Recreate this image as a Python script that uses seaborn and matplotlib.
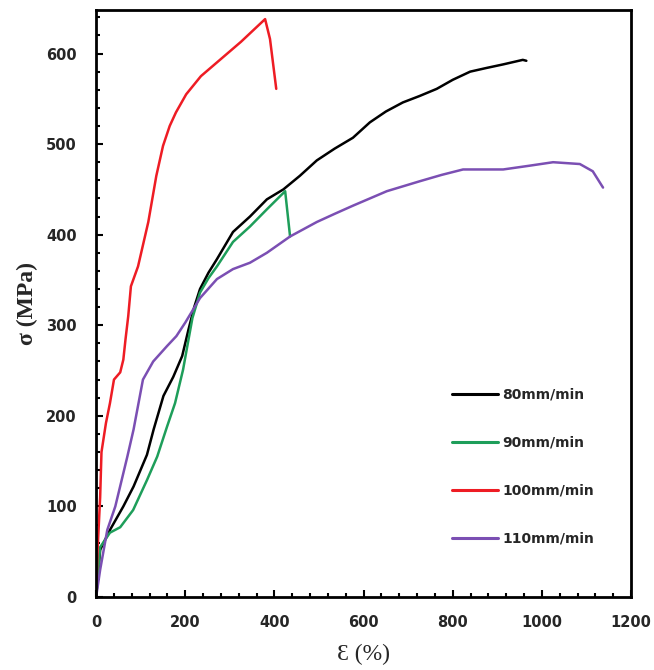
import numpy as np
import pandas as pd
import matplotlib
matplotlib.use("Agg")
import matplotlib.pyplot as plt
from matplotlib.ticker import MultipleLocator
import seaborn as sns

labels = ["80mm/min", "90mm/min", "100mm/min", "110mm/min"]
colors = ["#000000", "#1e9e5a", "#ee1c24", "#7b4fb3"]

x80 = [0, 9, 31, 61, 84, 114, 129, 151, 173, 193, 207, 220, 233, 252, 271, 307, 345, 383, 420, 457, 495, 535, 576, 614, 650, 688, 725, 764, 800, 839, 875, 913, 957, 965]
y80 = [0, 52, 74, 100, 122, 157, 185, 222, 243, 266, 295, 320, 340, 358, 373, 403, 420, 439, 450, 465, 482, 495, 507, 524, 536, 546, 553, 561, 571, 580, 584, 588, 593, 592]

x90 = [0, 9, 31, 54, 83, 114, 137, 159, 177, 195, 206, 216, 233, 252, 271, 307, 345, 383, 424, 435]
y90 = [0, 55, 71, 77, 96, 129, 155, 188, 214, 251, 281, 308, 336, 352, 365, 392, 409, 428, 448, 398]

x100 = [0, 3, 9, 12, 22, 31, 40, 54, 61, 66, 72, 78, 94, 117, 135, 150, 165, 179, 202, 235, 280, 325, 379, 390, 404]
y100 = [0, 50, 110, 160, 192, 214, 240, 248, 262, 285, 310, 343, 365, 414, 465, 498, 520, 535, 555, 575, 594, 613, 638, 616, 561]

x110 = [0, 9, 25, 43, 70, 84, 105, 128, 159, 180, 200, 233, 271, 307, 345, 383, 435, 495, 535, 576, 652, 726, 775, 823, 913, 970, 1025, 1085, 1114, 1137]
y110 = [0, 30, 74, 100, 155, 185, 240, 260, 277, 288, 303, 330, 351, 362, 369, 380, 398, 414, 423, 432, 448, 459, 466, 472, 472, 476, 480, 478, 470, 452]

xs = [x80, x90, x100, x110]
ys = [y80, y90, y100, y110]

frames = []
for lab, xv, yv in zip(labels, xs, ys):
    frames.append(pd.DataFrame({"strain": xv, "stress": yv, "speed": lab}))
df = pd.concat(frames, ignore_index=True)

sns.set_style("white")
fig = plt.figure(figsize=(6.54, 6.70), dpi=100)
ax = fig.add_axes([0.147, 0.109, 0.818, 0.876])

sns.lineplot(data=df, x="strain", y="stress", hue="speed", hue_order=labels,
             palette=colors, sort=False, estimator=None, units="speed",
             linewidth=1.8, ax=ax)

ax.set_xlim(0, 1200)
ax.set_ylim(0, 648)
ax.xaxis.set_major_locator(MultipleLocator(200))
ax.xaxis.set_minor_locator(MultipleLocator(40))
ax.yaxis.set_major_locator(MultipleLocator(100))
ax.yaxis.set_minor_locator(MultipleLocator(20))
ax.tick_params(which="both", direction="in", color="black", width=1.5,
               bottom=True, left=True, top=False, right=False)
ax.tick_params(which="major", length=5, labelsize=10.5)
ax.tick_params(axis="x", which="major", pad=13)
ax.tick_params(axis="y", which="major", pad=14)
ax.tick_params(which="minor", length=3)
for lbl in ax.get_xticklabels() + ax.get_yticklabels():
    lbl.set_fontweight("bold")
for sp in ax.spines.values():
    sp.set_color("black")
    sp.set_linewidth(2)

ax.set_xlabel("Ɛ (%)", family=["Liberation Serif", "DejaVu Serif"],
              fontsize=17, labelpad=10)
ax.set_ylabel("σ (MPa)", family=["Liberation Serif", "DejaVu Serif"],
              fontsize=17, fontweight="bold", labelpad=6)

leg = ax.legend(loc="upper left", bbox_to_anchor=(0.655, 0.366), frameon=False,
                handlelength=3.3, handletextpad=0.3, labelspacing=2.45,
                borderaxespad=0, prop={"weight": "bold", "size": 10})
for h in leg.get_lines():
    h.set_linewidth(2.2)

fig.savefig("out.png", dpi=100)
